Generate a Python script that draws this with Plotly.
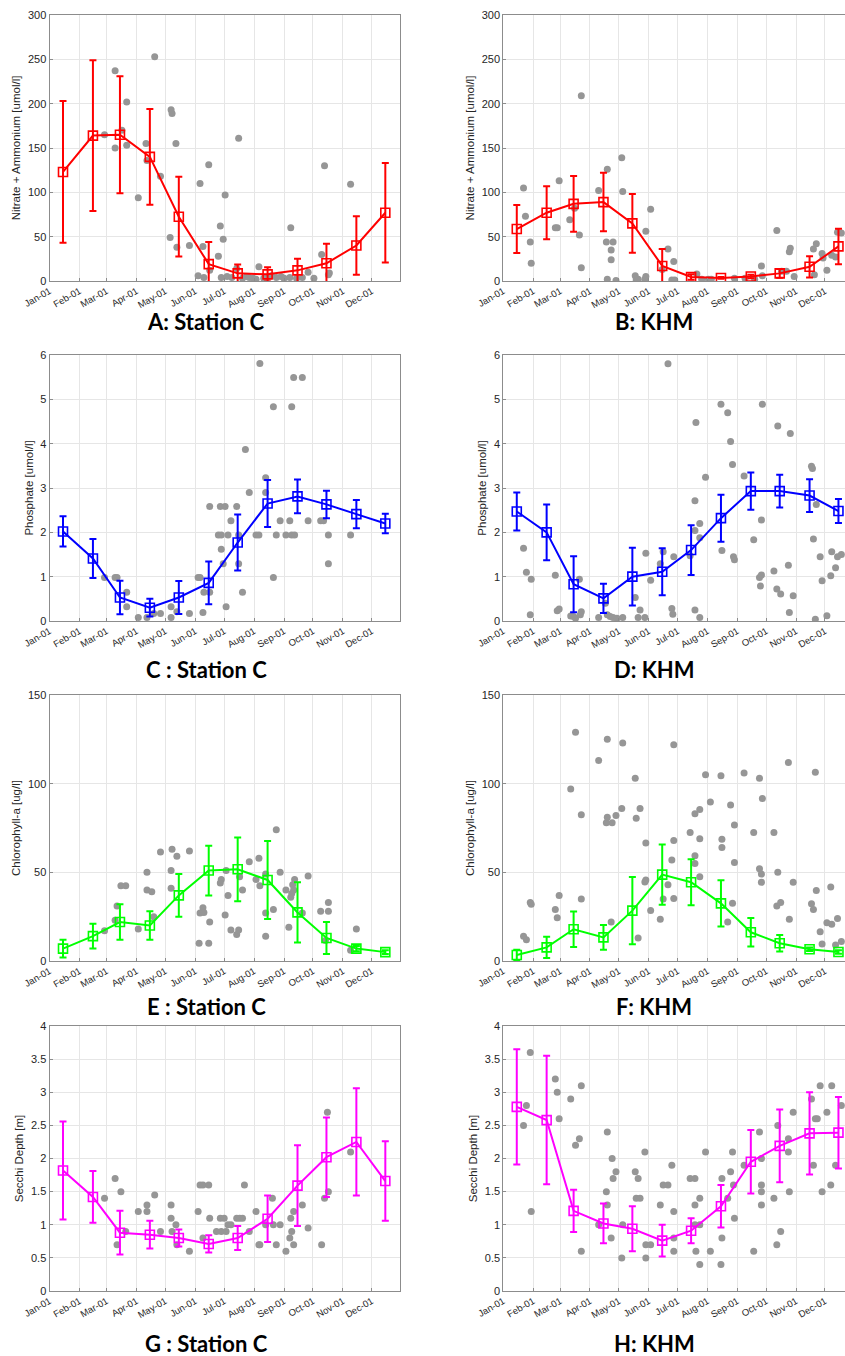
import pandas as pd
import plotly.graph_objects as go

W, H = 845, 1356

# ---------------- data ----------------
months = ["2001-%02d-15" % m for m in range(1, 13)]

# A: Nitrate + Ammonium, Station C
a_mean = [123, 164, 165, 140, 72.5, 19, 8.6, 7.5, 12, 20, 40, 77]
a_sd = [80, 85, 66, 54, 45, 25, 10, 8, 13, 22, 33, 56]
a_day = [68, 109, 80, 57, 68, 75, 80, 100, 101, 92, 115, 126, 127, 131, 125, 132, 145, 156, 165, 159,
         154, 160, 166, 177, 182, 180, 175, 196, 178, 184, 189, 194, 204, 217, 211, 222, 230, 235, 243, 250,
         249, 256, 262, 268, 282, 285, 289, 290, 312, 274, 200, 207, 214, 226, 240]
a_val = [237, 253, 202, 165, 150, 170, 153, 155, 136, 94, 118, 193, 189, 155, 49, 38, 40, 110, 131, 39,
         6, 4, 12, 62, 97, 47, 28, 161, 4, 5, 4, 14, 5, 16, 3, 3, 6, 4, 3, 60,
         4, 3, 4, 10, 30, 130, 7, 9, 109, 3, 3, 4, 2, 4, 5]

# B: Nitrate + Ammonium, KHM
b_mean = [58.6, 77, 87, 89, 65, 17, 4.5, 3.4, 5, 8.6, 16, 39]
b_sd = [27, 30, 31.5, 33, 33, 19, 3, 1, 2, 5, 12, 20]
b_day = [21, 23, 28, 29, 54, 56, 58, 69, 74, 79, 81, 81, 99, 108, 107, 114, 112, 112, 108, 117,
         123, 124, 137, 138, 140, 147, 148, 148, 153, 171, 177, 175, 178, 165, 201, 206, 213, 216, 240, 251,
         261, 268, 269, 284, 289, 294, 297, 298, 302, 323, 322, 325, 331, 332, 336, 341, 347, 351, 345]
b_val = [105, 73, 44, 20, 60, 60, 113, 69, 82, 52, 209, 15, 102, 126, 44, 44, 35, 24, 2, 0.5,
         139, 101, 6, 1, 2, 2, 5, 56, 81, 36, 22, 1, 1, 13, 8, 2, 2, 2, 3, 3,
         2, 17, 6, 57, 11, 11, 33, 37, 5, 7, 36, 42, 31, 26, 12, 29, 55, 54, 27]

# C: Phosphate, Station C
c_mean = [2.02, 1.41, 0.53, 0.30, 0.53, 0.86, 1.77, 2.65, 2.81, 2.63, 2.41, 2.20]
c_sd = [0.34, 0.44, 0.38, 0.20, 0.37, 0.48, 0.63, 0.53, 0.38, 0.31, 0.32, 0.22]
c_day = [57, 68, 70, 80, 80, 92, 101, 108, 115, 126, 126, 132, 145, 154, 156, 159, 160, 166, 166, 175,
         178, 177, 182, 178, 180, 183, 185, 188, 194, 196, 196, 200, 203, 207, 214, 217, 218, 224, 224, 232,
         232, 235, 239, 245, 251, 254, 249, 251, 253, 262, 268, 281, 284, 289, 289, 312]
c_val = [0.98, 0.98, 0.98, 0.65, 0.32, 0.08, 0.08, 0.17, 0.17, 0.32, 0.08, 0.21, 0.17, 0.98, 0.98, 0.19, 0.65, 0.65, 2.58, 1.94,
         1.94, 2.58, 2.58, 1.62, 1.29, 0.32, 1.94, 2.26, 2.58, 1.94, 1.29, 0.65, 3.87, 2.9, 1.94, 1.94, 5.81, 3.23, 2.9, 4.83,
         0.98, 1.94, 2.26, 1.94, 1.94, 1.94, 2.26, 4.83, 5.49, 5.49, 2.26, 2.26, 2.26, 1.94, 1.29, 1.94]

# D: Phosphate, KHM
d_mean = [2.47, 2.00, 0.83, 0.51, 1.00, 1.11, 1.60, 2.32, 2.93, 2.93, 2.83, 2.48]
d_sd = [0.43, 0.63, 0.63, 0.33, 0.65, 0.53, 0.56, 0.53, 0.42, 0.37, 0.37, 0.27]
d_day = [21, 24, 29, 28, 54, 56, 58, 70, 73, 75, 80, 81, 79, 99, 106, 108, 111, 114, 118, 124,
         137, 140, 142, 147, 148, 153, 163, 166, 171, 175, 176, 177, 194, 199, 199, 199, 200, 204, 204, 204,
         210, 226, 227, 233, 236, 238, 239, 240, 250, 260, 266, 268, 267, 268, 269, 281, 285, 284, 288, 296,
         297, 298, 301, 320, 321, 322, 324, 325, 329, 331, 336, 340, 341, 345, 347, 351]
d_val = [1.64, 1.1, 0.94, 0.14, 1.03, 0.23, 0.27, 0.11, 0.1, 0.06, 0.14, 0.21, 0.94, 0.08, 0.4, 0.14, 0.1, 0.08, 0.06, 0.08,
         0.53, 0.08, 0.25, 0.08, 1.53, 0.92, 1.29, 1.56, 5.8, 0.28, 0.15, 1.45, 1.47, 2.04, 2.71, 0.25, 4.48, 2.2, 1.88, 0.08,
         3.24, 4.89, 1.59, 4.7, 4.05, 3.53, 1.45, 1.38, 3.27, 1.83, 0.98, 1.04, 0.79, 2.28, 4.89, 1.13, 4.4, 0.72, 0.61, 1.26,
         0.19, 4.23, 0.57, 3.49, 3.44, 1.85, 0.04, 2.63, 1.45, 0.91, 0.12, 1.02, 1.56, 1.2, 1.45, 1.5]

# E: Chlorophyll-a, Station C
e_mean = [7, 14, 22, 20, 37, 51, 51.7, 45.7, 27.4, 13, 7, 5]
e_sd = [5, 7, 10, 8, 12, 14, 18, 22, 17, 9, 1.5, 1]
e_day = [57, 68, 70, 74, 79, 92, 101, 101, 106, 108, 115, 126, 126, 127, 132, 145, 155, 156, 159, 160,
         165, 166, 177, 178, 182, 183, 185, 188, 194, 196, 197, 200, 207, 214, 217, 218, 224, 224, 224, 232,
         235, 239, 245, 248, 250, 251, 252, 253, 254, 262, 268, 281, 286, 289, 289, 312, 318]
e_val = [17, 23, 31, 42.5, 42.5, 18, 50, 40, 39, 25, 61.5, 51, 41, 63, 59, 62, 10, 27, 30, 27.4,
         10, 22, 44, 46, 26, 51, 37, 17.5, 15, 17.5, 47.5, 40, 56, 46, 58, 42.5, 49, 27, 14, 29,
         74, 50, 40, 19, 36, 38, 43, 40, 46, 27, 48, 28, 11.5, 33, 28, 6, 18]

# F: Chlorophyll-a, KHM
f_mean = [3.4, 7.7, 17.9, 13.3, 28.4, 48.7, 44.4, 32.5, 16.2, 10, 6.6, 5.1]
f_sd = [3, 6, 10, 7, 19, 17, 13, 13, 8, 4.7, 1, 1]
f_day = [21, 24, 28, 29, 54, 56, 58, 70, 75, 81, 81, 99, 107, 108, 108, 112, 113, 117, 123, 124,
         137, 138, 140, 142, 147, 148, 148, 153, 163, 166, 171, 175, 177, 177, 177, 194, 199, 199, 199, 204,
         204, 204, 210, 215, 226, 227, 227, 233, 236, 238, 240, 240, 250, 260, 266, 266, 268, 268, 269, 281,
         285, 284, 288, 296, 297, 301, 320, 322, 324, 325, 329, 331, 336, 340, 341, 347, 345, 351]
f_val = [14, 12, 33, 32, 29, 24.4, 37, 97, 129, 82.5, 35, 113, 78, 81, 125, 22, 78, 82, 86, 123,
         103, 80.5, 13, 86, 44.5, 45.7, 66.5, 28.5, 23.5, 35, 43, 57, 122, 68, 35.3, 72.5, 83, 59.4, 55, 85.5,
         69, 47.5, 105, 89.7, 104.5, 68.6, 64, 22, 88, 32.5, 76.7, 55.5, 106, 72.4, 103, 52, 49, 44.4, 91.7, 72.4,
         50, 31, 33, 112, 23.5, 44.4, 32.3, 29, 106.4, 39.7, 16.5, 9.6, 21.6, 41.7, 20.7, 23.9, 9, 11]

# G: Secchi depth, Station C
g_mean = [1.82, 1.42, 0.88, 0.85, 0.80, 0.71, 0.80, 1.09, 1.59, 2.02, 2.25, 1.66]
g_sd = [0.74, 0.39, 0.33, 0.21, 0.13, 0.13, 0.18, 0.35, 0.61, 0.60, 0.81, 0.60]
g_day = [57, 68, 70, 74, 79, 92, 101, 101, 109, 115, 126, 126, 127, 131, 132, 145, 154, 156, 159, 159,
         165, 166, 173, 178, 183, 177, 181, 185, 188, 194, 197, 200, 202, 207, 214, 217, 218, 224, 231, 232,
         235, 239, 245, 249, 250, 251, 253, 253, 262, 268, 282, 285, 289, 288, 312]
g_val = [1.4, 1.7, 0.7, 1.5, 0.9, 1.2, 1.3, 1.2, 1.45, 0.9, 1.3, 1.1, 0.9, 1.0, 0.7, 0.6, 1.2, 1.6, 1.6, 0.8,
         1.6, 1.1, 0.9, 0.9, 0.9, 1.1, 1.1, 1.0, 1.0, 1.1, 1.1, 1.1, 1.6, 0.9, 1.2, 0.7, 0.7, 1.0, 1.4, 1.0,
         0.7, 1.0, 0.6, 0.8, 1.1, 0.9, 1.2, 0.7, 1.3, 0.95, 0.7, 1.4, 1.5, 2.7, 2.1]

# H: Secchi depth, KHM
h_mean = [2.78, 2.58, 1.21, 1.02, 0.94, 0.76, 0.91, 1.28, 1.95, 2.19, 2.38, 2.39]
h_sd = [0.87, 0.97, 0.32, 0.30, 0.34, 0.24, 0.19, 0.32, 0.48, 0.55, 0.62, 0.54]
h_day = [24, 21, 28, 29, 54, 56, 58, 70, 75, 79, 81, 81, 99, 107, 108, 108, 112, 113, 114, 117,
         123, 124, 137, 140, 138, 142, 147, 148, 153, 148, 163, 166, 171, 175, 177, 177, 177, 194, 199, 199,
         199, 200, 204, 204, 204, 210, 215, 226, 227, 227, 233, 236, 238, 239, 240, 250, 260, 266, 268, 268,
         268, 268, 281, 284, 285, 288, 296, 296, 297, 301, 320, 322, 324, 326, 329, 331, 336, 340, 341, 345, 351]
h_val = [2.8, 2.5, 3.6, 1.2, 3.2, 3.0, 2.6, 2.9, 2.2, 2.3, 3.1, 0.6, 1.0, 1.5, 2.4, 1.3, 0.8, 2.0, 1.7, 1.8,
         0.5, 1.0, 1.8, 1.7, 1.4, 1.4, 2.1, 0.7, 0.7, 0.5, 1.3, 1.6, 1.6, 1.9, 1.2, 0.8, 0.6, 1.7, 1.7, 1.3,
         1.0, 0.6, 1.4, 1.0, 0.4, 2.1, 0.6, 0.4, 1.7, 0.8, 1.4, 1.8, 2.1, 1.6, 1.1, 1.9, 0.6, 2.4, 2.0, 1.6,
         1.5, 1.3, 1.4, 0.7, 2.5, 0.9, 2.1, 2.3, 1.5, 2.7, 2.9, 1.9, 2.6, 2.6, 3.1, 1.5, 2.7, 1.6, 3.1, 1.9, 2.8]

titles = ["A: Station C", "B: KHM", "C : Station C", "D: KHM",
          "E : Station C", "F: KHM", "G : Station C", "H: KHM"]
ylabels = ["Nitrate + Ammonium [umol/l]", "Nitrate + Ammonium [umol/l]",
           "Phosphate [umol/l]", "Phosphate [umol/l]",
           "Chlorophyll-a [ug/l]", "Chlorophyll-a [ug/l]",
           "Secchi Depth [m]", "Secchi Depth [m]"]
yranges = [[0, 300], [0, 300], [0, 6], [0, 6], [0, 150], [0, 150], [0, 4], [0, 4]]
ydticks = [50, 50, 1, 1, 50, 50, 0.5, 0.5]
colors = ["#ff0000", "#ff0000", "#0000ff", "#0000ff", "#00ff00", "#00ff00", "#ff00ff", "#ff00ff"]

panels = [(a_day, a_val, a_mean, a_sd), (b_day, b_val, b_mean, b_sd),
          (c_day, c_val, c_mean, c_sd), (d_day, d_val, d_mean, d_sd),
          (e_day, e_val, e_mean, e_sd), (f_day, f_val, f_mean, f_sd),
          (g_day, g_val, g_mean, g_sd), (h_day, h_val, h_mean, h_sd)]

# ---------------- layout geometry (pixels) ----------------
col_x = [(49.5, 400.0), (503.3, 845.0)]
row_y = [(15, 281), (355, 621), (695, 961), (1026, 1291)]
x_end = ["2001-12-30 05:00", "2001-12-21 19:00"]
title_x = [206, 654]
title_y = [322, 669, 1006, 1343]

base = pd.Timestamp("2001-01-01")
fig = go.Figure()
layout = dict(width=W, height=H, margin=dict(l=0, r=0, t=0, b=0, autoexpand=False),
              paper_bgcolor="white", plot_bgcolor="white", showlegend=False,
              font=dict(family="Liberation Sans, Arial, sans-serif", color="#262626"))
annotations = []

for i, (days, vals, mean, sd) in enumerate(panels):
    r, c = divmod(i, 2)
    k = "" if i == 0 else str(i + 1)
    xa, ya = "x" + k, "y" + k
    dates = base + pd.to_timedelta(days, unit="D")
    fig.add_trace(go.Scatter(x=dates, y=vals, mode="markers", xaxis=xa, yaxis=ya,
                             marker=dict(color="#969696", size=7, line=dict(width=0))))
    fig.add_trace(go.Scatter(x=months, y=mean, mode="lines+markers", xaxis=xa, yaxis=ya,
                             line=dict(color=colors[i], width=2),
                             marker=dict(symbol="square-open", size=9, color=colors[i],
                                         line=dict(width=1.6, color=colors[i])),
                             error_y=dict(type="data", array=sd, visible=True,
                                          color=colors[i], thickness=2, width=3.5)))
    x0, x1 = col_x[c]
    y0, y1 = row_y[r]
    layout["xaxis" + k] = dict(
        domain=[x0 / W, x1 / W], anchor=ya, type="date", automargin=False,
        range=["2001-01-01", x_end[c]], tick0="2001-01-01", dtick="M1",
        tickformat="%b-%d", tickangle=-30, tickfont=dict(size=9.5, color="#262626"),
        showgrid=True, gridcolor="#e6e6e6", gridwidth=1,
        showline=True, linecolor="#8c8c8c", linewidth=1, mirror=True,
        ticks="inside", ticklen=3, tickcolor="#8c8c8c", zeroline=False)
    layout["yaxis" + k] = dict(
        domain=[1 - y1 / H, 1 - y0 / H], anchor=xa, range=yranges[i], dtick=ydticks[i],
        automargin=False, tickfont=dict(size=11, color="#262626"),
        title=dict(text=ylabels[i], font=dict(size=11.5, color="#262626"), standoff=4),
        showgrid=True, gridcolor="#e6e6e6", gridwidth=1,
        showline=True, linecolor="#8c8c8c", linewidth=1, mirror=(c == 0),
        ticks="inside", ticklen=3, tickcolor="#8c8c8c", zeroline=False)
    annotations.append(dict(text="<b>" + titles[i] + "</b>", xref="paper", yref="paper",
                            x=title_x[c] / W, y=1 - title_y[r] / H, showarrow=False,
                            xanchor="center", yanchor="middle",
                            font=dict(family="Lato, Open Sans, sans-serif", size=22, color="black")))

layout["annotations"] = annotations
fig.update_layout(**layout)
fig.write_html("out.html", config={"displayModeBar": False},
               post_script="document.body.style.margin='0px';document.body.style.overflow='hidden';")
